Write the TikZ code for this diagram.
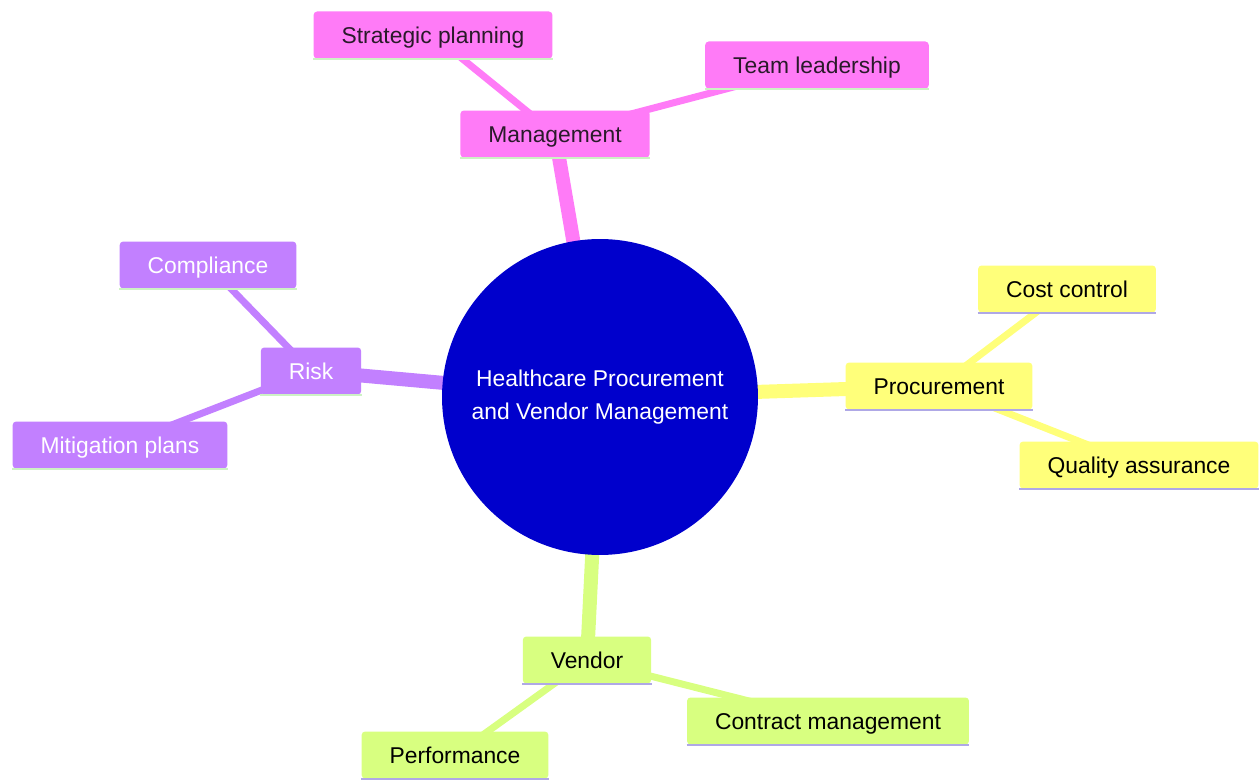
\documentclass[tikz,border=0pt]{standalone}
\usepackage{fontspec}
\setmainfont{Liberation Sans}
\usepackage{tikz}
\usetikzlibrary{backgrounds}

\definecolor{rootblue}{HTML}{0000CC}
\definecolor{mgpink}{HTML}{FF7BF7}
\definecolor{prylw}{HTML}{FFFF7A}
\definecolor{rkpurple}{HTML}{C280FF}
\definecolor{vdgreen}{HTML}{D8FF80}
\definecolor{lightgrn}{HTML}{CDF2C4}
\definecolor{lavender}{HTML}{AFA8E6}
\definecolor{darktxt}{HTML}{2A1A2A}

\tikzset{
    box/.style={rounded corners=2pt, inner xsep=0.56cm, inner ysep=0pt,
        text height=12pt, text depth=2.7pt,
        minimum height=0.94cm, font=\fontsize{13}{15.6}\selectfont},
    mgbox/.style={box, fill=mgpink, text=darktxt},
    prbox/.style={box, fill=prylw, text=black},
    rkbox/.style={box, fill=rkpurple, text=white},
    vdbox/.style={box, fill=vdgreen, text=black},
    trunk/.style={line width=0.28cm},
    twig/.style={line width=0.14cm},
}

\begin{document}
\begin{tikzpicture}[x=0.02cm,y=-0.02cm]
        \useasboundingbox (0,0) rectangle (1259,780);

        \node[circle, fill=rootblue, text=white, minimum size=6.32cm, align=center,
            font=\fontsize{13}{19}\selectfont] (root) at (600,397)
            {Healthcare Procurement\\and Vendor Management};

        \node[mgbox] (mgmt) at (555,134) {Management};
        \node[mgbox] (plan) at (433,35) {Strategic planning};
        \node[mgbox] (lead) at (817,65) {Team leadership};

        \node[prbox] (proc) at (939,386) {Procurement};
        \node[prbox] (cost) at (1067,289) {Cost control};
        \node[prbox] (qual) at (1139,465) {Quality assurance};

        \node[rkbox] (risk) at (311,371) {Risk};
        \node[rkbox] (comp) at (208,265) {Compliance};
        \node[rkbox] (miti) at (120,445) {Mitigation plans};

        \node[vdbox] (vend) at (587,660) {Vendor};
        \node[vdbox] (cont) at (828,721) {Contract management};
        \node[vdbox] (perf) at (455,755) {Performance};

        % underlines
        \foreach \n/\c in {mgmt/lightgrn,plan/lightgrn,lead/lightgrn,
            risk/lightgrn,comp/lightgrn,miti/lightgrn,
            proc/lavender,cost/lavender,qual/lavender,
            vend/lavender,cont/lavender,perf/lavender}
        {
            \draw[line width=0.05cm,\c] (\n.south west) -- (\n.south east);
        }

        \begin{scope}[on background layer]
            \draw[trunk,mgpink] (root.center) -- (mgmt.center);
            \draw[trunk,prylw] (root.center) -- (proc.center);
            \draw[trunk,rkpurple] (root.center) -- (risk.center);
            \draw[trunk,vdgreen] (root.center) -- (vend.center);

            \draw[twig,mgpink] (mgmt.center) -- (plan.center);
            \draw[twig,mgpink] (mgmt.center) -- (lead.center);
            \draw[twig,prylw] (proc.center) -- (cost.center);
            \draw[twig,prylw] (proc.center) -- (qual.center);
            \draw[twig,rkpurple] (risk.center) -- (comp.center);
            \draw[twig,rkpurple] (risk.center) -- (miti.center);
            \draw[twig,vdgreen] (vend.center) -- (cont.center);
            \draw[twig,vdgreen] (vend.center) -- (perf.center);
        \end{scope}

    \end{tikzpicture}
\end{document}
